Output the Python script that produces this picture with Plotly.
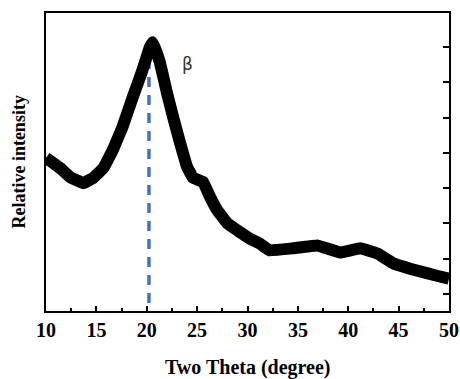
import plotly.graph_objects as go

# Two theta (degree)
two_theta = [10, 11.4, 12.4, 13.7, 14.7, 15.7, 16.65, 17.6, 18.6, 19.6, 20.3, 20.6, 21.3, 22.0,
             22.6, 23.3, 24.0, 24.6, 25.6, 26.3, 27.0, 28.0, 29.0, 30.2, 31.2, 32.2, 34.5, 36.9,
             39.2, 41.2, 42.9, 44.5, 46.8, 48.8, 50]
# Relative intensity (a.u.)
intensity = [486, 457, 431, 414, 429, 457, 509, 574, 657, 737, 800, 814, 757, 671,
             603, 529, 460, 429, 417, 374, 337, 300, 280, 257, 243, 223, 229, 237,
             217, 229, 214, 186, 166, 151, 143]

peak_x = 20.22
peak_line_y = [74, 808]
beta_label = "β"

fig = go.Figure()
fig.add_trace(go.Scatter(x=[peak_x, peak_x], y=peak_line_y, mode="lines",
                         line=dict(color="#4472c4", width=3.5, dash="10px,8px"),
                         showlegend=False, hoverinfo="skip"))
fig.add_trace(go.Scatter(x=two_theta, y=intensity, mode="lines",
                         line=dict(color="black", width=12, shape="spline", smoothing=0.15),
                         showlegend=False))

fig.add_annotation(x=24.0, y=751, text=beta_label, showarrow=False,
                   font=dict(family="DejaVu Sans", size=17, color="#333333"))
fig.add_annotation(xref="paper", yref="paper", x=-0.068, y=0.5, xanchor="center",
                   yanchor="middle", text="<b>Relative intensity</b>",
                   textangle=-90, showarrow=False,
                   font=dict(family="Liberation Serif", size=18, color="black"))
fig.add_annotation(xref="paper", yref="paper", x=0.5, y=-0.191, xanchor="center",
                   yanchor="middle", text="<b>Two Theta (degree)</b>", showarrow=False,
                   font=dict(family="Liberation Serif", size=20, color="black"))

fig.update_layout(
    width=460, height=379,
    margin=dict(l=46, r=11, t=13, b=68, autoexpand=False),
    paper_bgcolor="white", plot_bgcolor="white",
    font=dict(family="Liberation Serif", color="black"),
    xaxis=dict(range=[10, 50], tickmode="linear", tick0=10, dtick=5,
               ticks="inside", ticklen=5, tickwidth=2, tickcolor="black",
               minor=dict(ticks="inside", ticklen=3, tickwidth=2, dtick=2.5, tickcolor="black"),
               showline=True, linecolor="black", linewidth=2, mirror=True,
               showgrid=False, zeroline=False, automargin=False,
               tickfont=dict(family="Liberation Serif", size=20, color="black"),
               tickprefix="<b>", ticksuffix="</b>"),
    yaxis=dict(range=[51, 897], side="right", tickmode="linear", tick0=100, dtick=100,
               ticks="inside", ticklen=6, tickwidth=2, tickcolor="black",
               showticklabels=False, automargin=False,
               showline=True, linecolor="black", linewidth=2, mirror=True,
               showgrid=False, zeroline=False),
)

fig.write_html("out.html", config={"displayModeBar": False},
               post_script="document.body.style.margin='0';document.body.style.overflow='hidden';")
